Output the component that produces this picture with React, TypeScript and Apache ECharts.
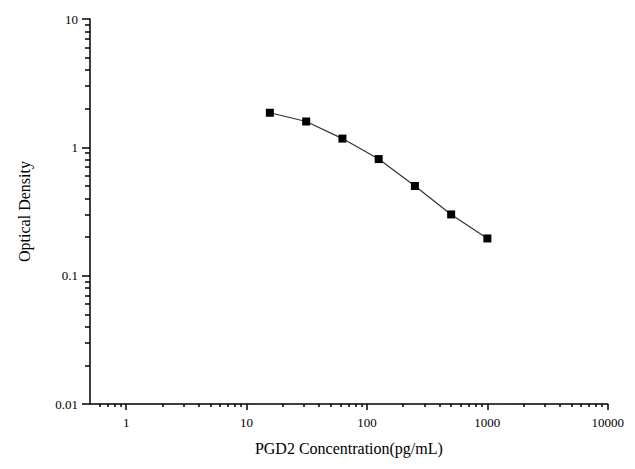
import React, { useEffect, useRef } from "react";
import * as echarts from "echarts";

const concentrations = [15.6, 31.25, 62.5, 125, 250, 500, 1000];
const densities = [1.86, 1.59, 1.17, 0.81, 0.5, 0.3, 0.195];
const xTickLabels = [1, 10, 100, 1000, 10000];
const yTickLabels = [0.01, 0.1, 1, 10];

const log = (v: number) => Math.log10(v);
const minors = (from: number, to: number) => {
  const out: number[] = [];
  for (let e = from; e < to; e++)
    for (let k = 2; k <= 9; k++) out.push(log(k * Math.pow(10, e)));
  return out;
};

const font = "Liberation Serif";

const App: React.FC = () => {
  const chartRef = useRef<HTMLDivElement>(null);

  useEffect(() => {
    if (!chartRef.current) return;
    const chart = echarts.init(chartRef.current, null, { renderer: "svg" });
    const xMinor = minors(-1, 4).filter((v) => v > log(0.5));
    const yMinor = minors(-2, 1);
    const axisLine = { show: true, onZero: false, lineStyle: { color: "#000", width: 1.5 } };
    const xMin = log(0.5);

    chart.setOption({
      animation: false,
      grid: { left: 80, right: 7, top: 11, bottom: 52, containLabel: false },
      xAxis: [
        {
          type: "value",
          min: xMin,
          max: 4,
          position: "bottom",
          axisLine,
          splitLine: { show: false },
          axisTick: { show: true, length: 6, customValues: xTickLabels.map(log), lineStyle: { color: "#000", width: 1.5 } },
          axisLabel: {
            customValues: xTickLabels.map(log),
            formatter: (v: number) => String(Math.round(Math.pow(10, v))),
            color: "#000",
            fontFamily: font,
            fontSize: 13,
            margin: 12,
          },
          name: "PGD2 Concentration(pg/mL)",
          nameLocation: "middle",
          nameGap: 36,
          nameTextStyle: { color: "#000", fontFamily: font, fontSize: 16 },
        },
        {
          type: "value",
          min: xMin,
          max: 4,
          position: "bottom",
          axisLine: { show: false, onZero: false },
          splitLine: { show: false },
          axisLabel: { show: false },
          axisTick: { show: true, length: 3, customValues: xMinor, lineStyle: { color: "#000", width: 1.5 } },
        },
      ],
      yAxis: [
        {
          type: "value",
          min: -2,
          max: 1,
          axisLine,
          splitLine: { show: false },
          axisTick: { show: true, length: 8, customValues: yTickLabels.map(log), lineStyle: { color: "#000", width: 1.5 } },
          axisLabel: {
            customValues: yTickLabels.map(log),
            formatter: (v: number) => String(yTickLabels[Math.round(v) + 2]),
            color: "#000",
            fontFamily: font,
            fontSize: 13,
            margin: 12,
          },
          name: "Optical Density",
          nameLocation: "middle",
          nameGap: 58,
          nameTextStyle: { color: "#000", fontFamily: font, fontSize: 16 },
        },
        {
          type: "value",
          min: -2,
          max: 1,
          position: "left",
          axisLine: { show: false, onZero: false },
          splitLine: { show: false },
          axisLabel: { show: false },
          axisTick: { show: true, length: 5, customValues: yMinor, lineStyle: { color: "#000", width: 1.5 } },
        },
      ],
      series: [
        {
          type: "line",
          data: concentrations.map((c, i) => [log(c), log(densities[i])]),
          symbol: "rect",
          symbolSize: 8,
          lineStyle: { color: "#333", width: 1.2 },
          itemStyle: { color: "#000" },
        },
      ],
    });

    return () => chart.dispose();
  }, []);

  return <div ref={chartRef} style={{ width: 619, height: 453 }} />;
};

export default App;
